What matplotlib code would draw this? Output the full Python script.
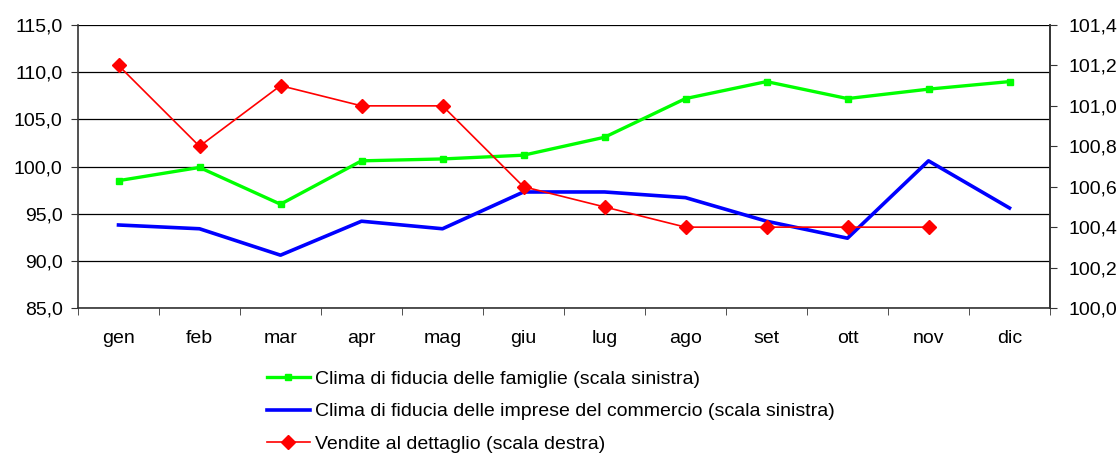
import matplotlib
matplotlib.use("Agg")
from matplotlib import pyplot as plt
from matplotlib.ticker import MultipleLocator, FuncFormatter, FixedLocator

plt.rcParams['font.family'] = ['Liberation Sans', 'DejaVu Sans']

mesi = ["gen", "feb", "mar", "apr", "mag", "giu", "lug", "ago", "set", "ott", "nov", "dic"]
famiglie = [98.5, 99.9, 96.0, 100.6, 100.8, 101.2, 103.1, 107.2, 109.0, 107.2, 108.2, 109.0]
commercio = [93.8, 93.4, 90.6, 94.2, 93.4, 97.3, 97.3, 96.7, 94.2, 92.4, 100.6, 95.6]
vendite = [101.2, 100.8, 101.1, 101.0, 101.0, 100.6, 100.5, 100.4, 100.4, 100.4, 100.4]

fig = plt.figure(figsize=(11.2, 4.53), dpi=100)
ax = fig.add_axes([78 / 1120, 1 - 308 / 453, (1050 - 78) / 1120, (308 - 25) / 453])
ax2 = ax.twinx()

x = list(range(len(mesi)))
l1, = ax.plot(x, famiglie, color="#00ff00", lw=2.4, marker="s", ms=5,
              label="Clima di fiducia delle famiglie (scala sinistra)")
l2, = ax.plot(x, commercio, color="#0000ff", lw=2.6,
              label="Clima di fiducia delle imprese del commercio (scala sinistra)")
l3, = ax2.plot(x[:len(vendite)], vendite, color="#ff0000", lw=1.2, marker="D", ms=7,
               label="Vendite al dettaglio (scala destra)")

ax.set_xlim(-0.5, len(mesi) - 0.5)
ax.set_ylim(85, 115)
ax2.set_ylim(100.0, 101.4)
ax.yaxis.set_major_locator(MultipleLocator(5))
ax2.yaxis.set_major_locator(MultipleLocator(0.2))
fmt = FuncFormatter(lambda v, p: f"{v:.1f}".replace(".", ","))
ax.yaxis.set_major_formatter(fmt)
ax2.yaxis.set_major_formatter(fmt)

ax.set_xticks(x)
ax.set_xticklabels(mesi)
ax.xaxis.set_minor_locator(FixedLocator([i - 0.5 for i in range(len(mesi) + 1)]))
ax.tick_params(axis="x", which="major", length=0, pad=16, labelsize=14)
ax.tick_params(axis="x", which="minor", length=5, direction="out", color="#333333")
ax.tick_params(axis="y", length=5, direction="out", labelsize=14, pad=6, color="#333333")
ax2.tick_params(axis="y", length=5, direction="out", labelsize=14, pad=8, color="#333333")

ax.grid(axis="y", color="#000000", lw=0.9)
ax.spines["top"].set_visible(False)
ax2.spines["top"].set_visible(False)
ax2.spines["left"].set_visible(False)
ax2.spines["bottom"].set_visible(False)
for a in (ax, ax2):
    for s in a.spines.values():
        s.set_color("#333333")
        s.set_linewidth(1.2)
ax.set_zorder(ax2.get_zorder() - 1)
ax.patch.set_visible(False)
ax2.patch.set_visible(False)

fig.legend(handles=[l1, l2, l3], loc="upper left", bbox_to_anchor=(267 / 1120, 1 - 370 / 453),
           frameon=False, fontsize=14, handlelength=2.2, handletextpad=0.25,
           labelspacing=0.78, borderaxespad=0, borderpad=0)

fig.savefig("out.png", dpi=100)
